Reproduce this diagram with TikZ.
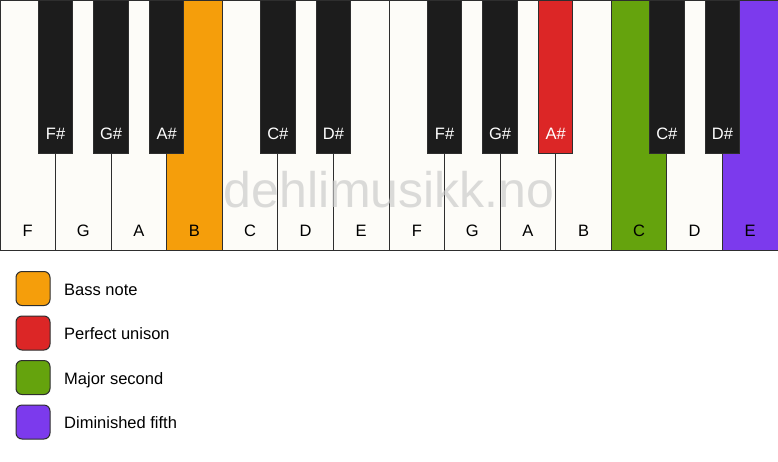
\documentclass[tikz,border=0pt]{standalone}
\usepackage{fontspec}
\setmainfont{Liberation Sans}
\definecolor{keywhite}{HTML}{FDFCF8}
\definecolor{keyblack}{HTML}{1C1C1C}
\definecolor{keyline}{HTML}{2E2E2E}
\definecolor{cbass}{HTML}{F59E0B}
\definecolor{cunison}{HTML}{DC2626}
\definecolor{csecond}{HTML}{65A30D}
\definecolor{cfifth}{HTML}{7C3AED}
\definecolor{wmark}{HTML}{C8C8C8}
\tikzset{
  whitekey/.style={draw=keyline, line width=1pt, fill=keywhite, minimum width=55.571pt, minimum height=250pt, inner sep=0pt, outer sep=0pt},
  blackkey/.style={draw=keyline, line width=1pt, fill=keyblack, minimum width=34.5pt, minimum height=153pt, inner sep=0pt, outer sep=0pt},
  wlabel/.style={anchor=base, inner sep=0pt, font=\fontsize{16.5}{19}\selectfont, text=black},
  blabel/.style={anchor=base, inner sep=0pt, font=\fontsize{16.5}{19}\selectfont, text=white},
  legbox/.style={draw=keyline, line width=1pt, rounded corners=6pt, minimum width=34pt, minimum height=34pt, inner sep=0pt},
  legtext/.style={anchor=base west, inner sep=0pt, font=\fontsize{16.5}{19}\selectfont, text=black},
}
\begin{document}
\begin{tikzpicture}[x=1pt,y=-1pt]
\useasboundingbox (0,0) rectangle (778,461);
\fill[white] (0,0) rectangle (778,461);
% white keys
\foreach \i/\n/\c in {0/F/keywhite,1/G/keywhite,2/A/keywhite,3/B/cbass,4/C/keywhite,5/D/keywhite,6/E/keywhite,7/F/keywhite,8/G/keywhite,9/A/keywhite,10/B/keywhite,11/C/csecond,12/D/keywhite,13/E/cfifth}{
  \node[whitekey, fill=\c] (w\i) at ({\i*55.571+27.786},125) {};
  \node[wlabel] (wl\i) at ({\i*55.571+27.786},236) {\n};
}
% watermark
\node[anchor=base, inner sep=0pt, text=wmark, opacity=0.65, font=\fontsize{50}{54}\selectfont] (wm) at (389,207) {dehlimusikk.no};
% black keys
\foreach \b/\n/\c in {1/F\#/keyblack,2/G\#/keyblack,3/A\#/keyblack,5/C\#/keyblack,6/D\#/keyblack,8/F\#/keyblack,9/G\#/keyblack,10/A\#/cunison,12/C\#/keyblack,13/D\#/keyblack}{
  \node[blackkey, fill=\c] (b\b) at ({\b*55.571},76.5) {};
  \node[blabel] (bl\b) at ({\b*55.571},139) {\n};
}
% legend
\node[legbox, fill=cbass] (l1) at (33,288.5) {};
\node[legtext] (t1) at (64,295) {Bass note};
\node[legbox, fill=cunison] (l2) at (33,333) {};
\node[legtext] (t2) at (64,339.5) {Perfect unison};
\node[legbox, fill=csecond] (l3) at (33,377.5) {};
\node[legtext] (t3) at (64,384) {Major second};
\node[legbox, fill=cfifth] (l4) at (33,422) {};
\node[legtext] (t4) at (64,428.5) {Diminished fifth};
\end{tikzpicture}
\end{document}
